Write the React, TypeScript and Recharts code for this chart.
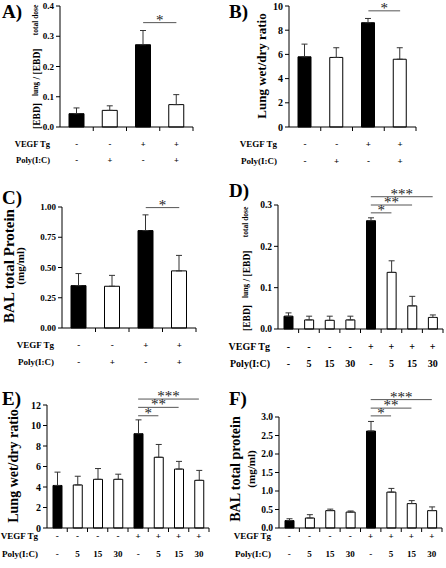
import { Bar, BarChart, Cell, ErrorBar, ReferenceLine, XAxis, YAxis } from 'recharts'

const SERIF = "'Liberation Serif', 'Times New Roman', Times, serif"

// treatment rows printed under each x axis
const vegfFour = ['-', '-', '+', '+']
const polyFour = ['-', '+', '-', '+']
const vegfEight = ['-', '-', '-', '-', '+', '+', '+', '+']
const polyEight = ['-', '5', '15', '30', '-', '5', '15', '30']

// A) [EBD]lung / [EBD]total dose
const ebdMeans = [0.044, 0.055, 0.272, 0.074]
const ebdSem = [0.019, 0.015, 0.047, 0.033]
const ebdTicks = [0, 0.1, 0.2, 0.3, 0.4]

// B) lung wet/dry ratio
const wetDryMeans = [5.8, 5.75, 8.62, 5.6]
const wetDrySem = [1.05, 0.8, 0.35, 0.95]
const wetDryTicks = [0, 2, 4, 6, 8, 10]

// C) BAL total protein
const balMeans = [0.35, 0.345, 0.805, 0.472]
const balSem = [0.1, 0.09, 0.13, 0.128]
const balTicks = [0, 0.25, 0.5, 0.75, 1]

// D) EBD, Poly(I:C) dose series
const ebdDoseMeans = [0.031, 0.022, 0.021, 0.022, 0.262, 0.137, 0.056, 0.028]
const ebdDoseSem = [0.008, 0.009, 0.01, 0.009, 0.007, 0.028, 0.023, 0.006]
const ebdDoseTicks = [0, 0.1, 0.2, 0.3]
const ebdDoseSig = [0.281, 0.3, 0.32]

// E) wet/dry, dose series
const wetDryDoseMeans = [4.15, 4.2, 4.75, 4.75, 9.2, 6.9, 5.75, 4.65]
const wetDryDoseSem = [1.3, 0.85, 1.05, 0.5, 1.35, 1.25, 0.75, 0.97]
const wetDryDoseTicks = [0, 2, 4, 6, 8, 10, 12]
const wetDryDoseSig = [10.95, 11.77, 12.58]

// F) BAL protein, dose series
const balDoseMeans = [0.2, 0.27, 0.47, 0.43, 2.62, 0.97, 0.66, 0.47]
const balDoseSem = [0.05, 0.09, 0.04, 0.03, 0.26, 0.1, 0.08, 0.1]
const balDoseTicks = [0, 0.5, 1, 1.5, 2, 2.5, 3]
const balDoseSig = [3.03, 3.24, 3.47]

const stars = ['*', '**', '***']

const Y_W = 30
const X_H = 30

interface Sig {
  from: number
  to: number
  y: number
  label: string
}

interface PanelDef {
  id: string
  box: [number, number, number, number]
  plot: [number, number, number, number] // left, right, top, bottom in page px
  means: number[]
  sem: number[]
  ticks: number[]
  decimals: number
  vegf: string[]
  poly: string[]
  sig: Sig[]
  barSize: number
  tickFont: number
  rowFont: number
  rowY: [number, number]
  rowGap: number
}

const doseSig = (levels: number[]): Sig[] =>
  levels.map((y, i) => ({ from: 4, to: 5 + i, y, label: stars[i] }))

const panels: PanelDef[] = [
  {
    id: 'A', box: [0, 0, 223, 180], plot: [60, 193, 6, 127],
    means: ebdMeans, sem: ebdSem, ticks: ebdTicks, decimals: 1,
    vegf: vegfFour, poly: polyFour, sig: [{ from: 2, to: 3, y: 0.345, label: '*' }],
    barSize: 15, tickFont: 9, rowFont: 8.5, rowY: [17, 33], rowGap: 10,
  },
  {
    id: 'B', box: [223, 0, 223, 180], plot: [289, 416, 6, 127],
    means: wetDryMeans, sem: wetDrySem, ticks: wetDryTicks, decimals: 0,
    vegf: vegfFour, poly: polyFour, sig: [{ from: 2, to: 3, y: 9.6, label: '*' }],
    barSize: 13, tickFont: 10, rowFont: 9, rowY: [17, 34], rowGap: 12,
  },
  {
    id: 'C', box: [0, 180, 223, 195], plot: [62, 196, 207, 328],
    means: balMeans, sem: balSem, ticks: balTicks, decimals: 2,
    vegf: vegfFour, poly: polyFour, sig: [{ from: 2, to: 3, y: 0.995, label: '*' }],
    barSize: 15, tickFont: 9, rowFont: 9, rowY: [17, 34], rowGap: 8,
  },
  {
    id: 'D', box: [223, 180, 223, 195], plot: [278, 443, 205, 329],
    means: ebdDoseMeans, sem: ebdDoseSem, ticks: ebdDoseTicks, decimals: 1,
    vegf: vegfEight, poly: polyEight, sig: doseSig(ebdDoseSig),
    barSize: 9, tickFont: 9.5, rowFont: 10, rowY: [17, 34], rowGap: 8,
  },
  {
    id: 'E', box: [0, 375, 223, 193], plot: [47, 209, 405, 528],
    means: wetDryDoseMeans, sem: wetDryDoseSem, ticks: wetDryDoseTicks, decimals: 0,
    vegf: vegfEight, poly: polyEight, sig: doseSig(wetDryDoseSig),
    barSize: 9, tickFont: 10, rowFont: 9, rowY: [8, 26], rowGap: 9,
  },
  {
    id: 'F', box: [223, 375, 223, 193], plot: [279, 442, 417, 528],
    means: balDoseMeans, sem: balDoseSem, ticks: balDoseTicks, decimals: 1,
    vegf: vegfEight, poly: polyEight, sig: doseSig(balDoseSig),
    barSize: 9, tickFont: 9.5, rowFont: 9, rowY: [8, 26], rowGap: 8,
  },
]

function Panel({ p }: { p: PanelDef }) {
  const [bx, by, bw, bh] = p.box
  const [left, right, top, bottom] = p.plot
  const n = p.means.length
  const step = (right - left) / n
  const data = p.means.map((m, i) => ({ name: `g${i + 1}`, value: m, err: [0, p.sem[i]] }))
  const margin = {
    left: left - bx - Y_W,
    right: bx + bw - right,
    top: top - by,
    bottom: by + bh - bottom - X_H,
  }
  const txt = { fontFamily: SERIF, fontWeight: 'bold' as const, fill: '#000' }

  const renderTick = (props: any) => {
    const { x, y, payload } = props
    const i = data.findIndex((d) => d.name === payload.value)
    return (
      <g>
        <line x1={x + step / 2} y1={y} x2={x + step / 2} y2={y + 4} stroke="#000" />
        <text x={x} y={y + p.rowY[0]} textAnchor="middle" dominantBaseline="central" fontSize={p.rowFont} {...txt}>
          {p.vegf[i]}
        </text>
        <text x={x} y={y + p.rowY[1]} textAnchor="middle" dominantBaseline="central" fontSize={p.rowFont} {...txt}>
          {p.poly[i]}
        </text>
        {i === 0 && (
          <>
            <text x={x - step / 2 - p.rowGap} y={y + p.rowY[0]} textAnchor="end" dominantBaseline="central" fontSize={p.rowFont} {...txt}>
              VEGF Tg
            </text>
            <text x={x - step / 2 - p.rowGap} y={y + p.rowY[1]} textAnchor="end" dominantBaseline="central" fontSize={p.rowFont} {...txt}>
              Poly(I:C)
            </text>
          </>
        )}
      </g>
    )
  }

  return (
    <div style={{ position: 'absolute', left: bx, top: by }}>
      <BarChart width={bw} height={bh} data={data} margin={margin}>
        <XAxis
          dataKey="name"
          height={X_H}
          interval={0}
          tickLine={false}
          tickSize={0}
          tickMargin={0}
          axisLine={{ stroke: '#000' }}
          tick={renderTick}
        />
        <YAxis
          width={Y_W}
          domain={[0, p.ticks[p.ticks.length - 1]]}
          ticks={p.ticks}
          interval={0}
          tickFormatter={(v: number) => v.toFixed(p.decimals)}
          tickSize={4}
          tickMargin={2}
          axisLine={{ stroke: '#000' }}
          tickLine={{ stroke: '#000' }}
          tick={{ fontSize: p.tickFont, ...txt }}
        />
        <Bar dataKey="value" barSize={p.barSize} stroke="#000" strokeWidth={1} isAnimationActive={false}>
          {data.map((d, i) => (
            <Cell key={d.name} fill={p.poly[i] === '-' ? '#000' : '#fff'} />
          ))}
          <ErrorBar dataKey="err" direction="y" width={3} stroke="#333" strokeWidth={1} isAnimationActive={false} />
        </Bar>
        {p.sig.map((s) => (
          <ReferenceLine
            key={s.label + s.y}
            segment={[
              { x: data[s.from].name, y: s.y },
              { x: data[s.to].name, y: s.y },
            ]}
            stroke="#555"
            ifOverflow="visible"
            label={{ value: s.label, position: 'top', offset: -2, fill: '#222', fontSize: 15, fontFamily: SERIF }}
          />
        ))}
      </BarChart>
    </div>
  )
}

function Titles() {
  const bold = { fontFamily: SERIF, fontWeight: 'bold' as const, fill: '#000' }
  const vtext = (x: number, y: number, size: number, s: string) => (
    <text key={s + x + y} x={x} y={y} transform={`rotate(-90 ${x} ${y})`} textAnchor="middle" fontSize={size} {...bold}>
      {s}
    </text>
  )
  return (
    <svg width={446} height={568} style={{ position: 'absolute', left: 0, top: 0, pointerEvents: 'none' }}>
      <text x={2} y={18} fontSize={19} {...bold}>A)</text>
      <text x={229} y={18} fontSize={19} {...bold}>B)</text>
      <text x={2} y={204} fontSize={19} {...bold}>C)</text>
      <text x={229} y={197} fontSize={19} {...bold}>D)</text>
      <text x={2} y={405} fontSize={19} {...bold}>E)</text>
      <text x={229} y={405} fontSize={19} {...bold}>F)</text>

      {vtext(40, 116, 9.5, '[EBD]')}
      {vtext(38, 89, 7.5, 'lung')}
      {vtext(40, 64, 9.5, '/ [EBD]')}
      {vtext(38, 20, 7.5, 'total dose')}

      {vtext(266, 66, 13, 'Lung wet/dry ratio')}

      {vtext(14, 266, 15, 'BAL total Protein')}
      {vtext(24, 266, 11, '(mg/ml)')}

      {vtext(250, 318, 9.5, '[EBD]')}
      {vtext(248, 291, 7.5, 'lung')}
      {vtext(250, 266, 9.5, '/ [EBD]')}
      {vtext(248, 222, 7.5, 'total dose')}

      {vtext(18, 466, 14, 'Lung wet/dry ratio')}

      {vtext(240, 469, 14, 'BAL total protein')}
      {vtext(255, 469, 11, '(mg/ml)')}
    </svg>
  )
}

export default function App() {
  return (
    <div style={{ position: 'absolute', left: 0, top: 0, width: 446, height: 568, background: '#fff', overflow: 'hidden' }}>
      {panels.map((p) => (
        <Panel key={p.id} p={p} />
      ))}
      <Titles />
    </div>
  )
}
